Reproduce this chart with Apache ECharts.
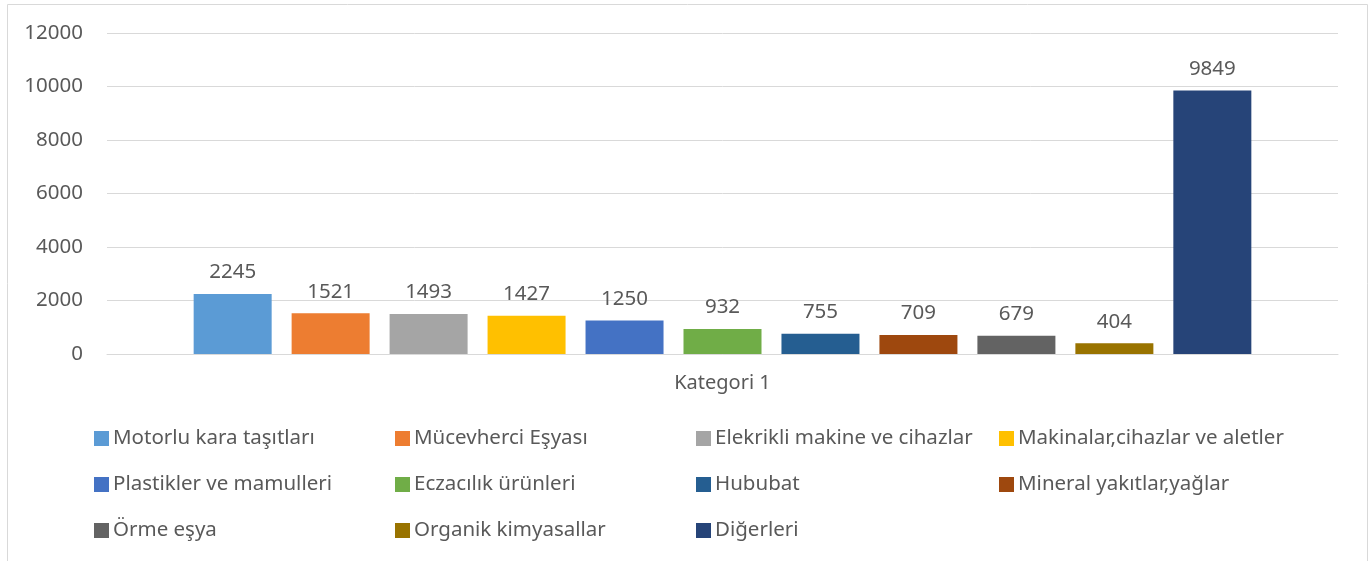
<!DOCTYPE html>
<html>
<head>
<meta charset="utf-8">
<script src="https://cdn.jsdelivr.net/npm/echarts@6/dist/echarts.min.js"></script>
<style>
  html, body { margin: 0; padding: 0; background: #fff; }
  #main { width: 1372px; height: 561px; }
</style>
</head>
<body>
<div id="main"></div>
<script>
// veriler
var categories = ['Kategori 1']
var seriesNames = [
  'Motorlu kara taşıtları', 'Mücevherci Eşyası', 'Elekrikli makine ve cihazlar',
  'Makinalar,cihazlar ve aletler', 'Plastikler ve mamulleri', 'Eczacılık ürünleri',
  'Hububat', 'Mineral yakıtlar,yağlar', 'Örme eşya', 'Organik kimyasallar', 'Diğerleri'
]
var seriesValues = [2245, 1521, 1493, 1427, 1250, 932, 755, 709, 679, 404, 9849]
var colors = ['#5B9BD5', '#ED7D31', '#A5A5A5', '#FFC000', '#4472C4', '#70AD47',
  '#255E91', '#9E480E', '#636363', '#997300', '#264478']
var yTicks = [0, 2000, 4000, 6000, 8000, 10000, 12000]

var font = 'Noto Sans'
var textColor = '#595959'

var myChart = echarts.init(document.getElementById('main'))

// legend: 4 sütun, her sütun ayrı legend
var legendCols = [[0, 4, 8], [1, 5, 9], [2, 6, 10], [3, 7]]
var legendLeft = [89, 390, 691, 994]
var legends = legendCols.map(function (col, i) {
  return {
    orient: 'vertical',
    left: legendLeft[i],
    top: 423,
    itemWidth: 15,
    itemHeight: 15,
    itemGap: 25,
    icon: 'rect',
    selectedMode: false,
    textStyle: { fontFamily: font, fontSize: 20.5, lineHeight: 21, color: textColor, padding: [0, 0, 0, -1] },
    data: col.map(function (k) { return seriesNames[k] })
  }
})

var series = seriesNames.map(function (name, i) {
  return {
    name: name,
    type: 'bar',
    data: [seriesValues[i]],
    barWidth: 78,
    barGap: '25.6%',
    itemStyle: { color: colors[i] },
    label: {
      show: true,
      position: 'top',
      distance: 11,
      fontFamily: font,
      fontSize: 20.5,
      color: textColor
    }
  }
})

var option = {
  animation: false,
  graphic: [{
    type: 'rect',
    shape: { x: 7.5, y: 4.5, width: 1360, height: 600 },
    style: { fill: 'none', stroke: '#d9d9d9', lineWidth: 1 }
  }],
  grid: { left: 107, right: 34, top: 33, bottom: 207 },
  legend: legends,
  xAxis: {
    type: 'category',
    data: categories,
    axisLine: { lineStyle: { color: '#d9d9d9' } },
    axisTick: { show: false },
    axisLabel: { fontFamily: font, fontSize: 20, color: textColor, margin: 19 }
  },
  yAxis: {
    type: 'value',
    min: yTicks[0],
    max: yTicks[yTicks.length - 1],
    interval: 2000,
    axisLine: { show: false },
    axisTick: { show: false },
    splitLine: { lineStyle: { color: '#d9d9d9' } },
    axisLabel: {
      fontFamily: font, fontSize: 20.5, color: textColor, margin: 24,
      formatter: function (v) { return String(v) }
    }
  },
  series: series
}

myChart.setOption(option)
</script>
</body>
</html>
